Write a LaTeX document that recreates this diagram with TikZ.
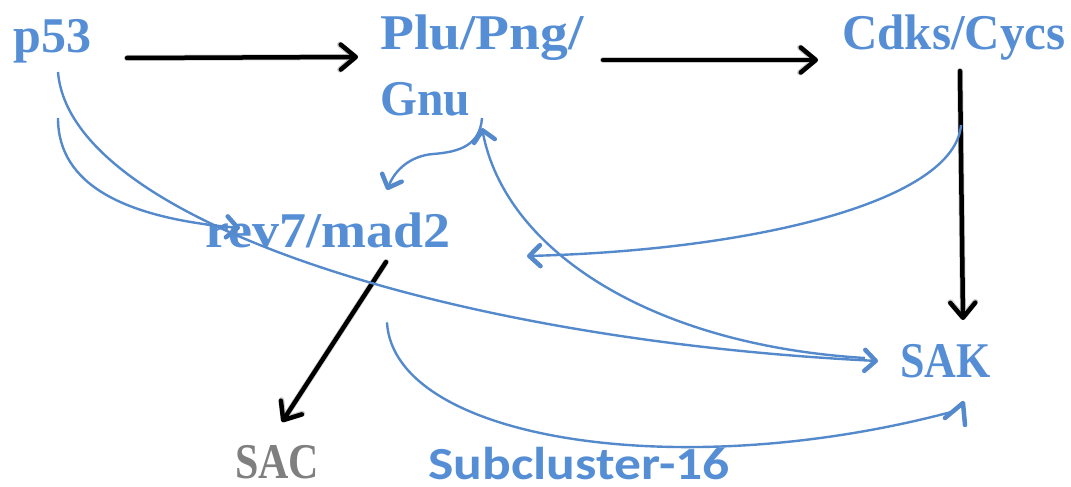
\documentclass[tikz,border=0pt]{standalone}
\usepackage{fontspec}
\setmainfont{Liberation Serif}
\newfontfamily\sansbold{Carlito}
\usetikzlibrary{arrows.meta}
\definecolor{txtblue}{RGB}{85,142,213}
\definecolor{lnblue}{RGB}{84,138,204}
\definecolor{sacgray}{RGB}{127,127,127}
\begin{document}
\begin{tikzpicture}[x=1pt,y=-1pt,
  lbl/.style={anchor=base west, inner sep=0pt, text=txtblue, font=\fontsize{50}{60}\selectfont\bfseries},
  blk/.style={draw=black, line width=4.5pt, line cap=round,
    -{Straight Barb[length=15pt,width=25pt,round]}},
  blkshadow/.style={draw=black!20, line width=6pt, line cap=round, shift={(1.5,2.5)},
    -{Straight Barb[length=15pt,width=25pt,round]}},
  blu/.style={draw=lnblue, line width=2.4pt,
    -{Straight Barb[length=11pt,width=21pt,line width=4.5pt,round]}},
  blunotip/.style={draw=lnblue, line width=2.4pt, line cap=round}]
\useasboundingbox (0,0) rectangle (1071,487);
% nodes
\node[lbl] (p53) at (13,53) {p53};
\node[lbl] (plu) at (380,50) {\scalebox{1.11}[1]{Plu/Png/}};
\node[lbl] (gnu) at (380,115) {\scalebox{0.95}[1]{Gnu}};
\node[lbl] (cdk) at (842,50) {\scalebox{0.98}[1]{Cdks/Cycs}};
\node[lbl] (rev) at (205,247) {\scalebox{1.08}[1]{rev7/mad2}};
\node[lbl] (sak) at (900,377) {\scalebox{0.88}[1]{SAK}};
\node[lbl, text=sacgray] (sac) at (235,478) {\scalebox{0.84}[1]{SAC}};
\node[lbl, font=\sansbold\fontsize{46}{54}\selectfont\bfseries] (sub) at (428,479) {\scalebox{1.165}[1]{Subcluster-16}};
% connector end points
\coordinate (p53-r) at (127,58);
\coordinate (plu-l) at (358,57);
\coordinate (plu-r) at (603,60);
\coordinate (cdk-l) at (818,60);
\coordinate (cdk-b) at (960,71);
\coordinate (sak-t) at (963,320);
\coordinate (rev-b) at (386,262);
\coordinate (sac-t) at (282,422);
\coordinate (p53-b1) at (58,72);
\coordinate (p53-b2) at (58,118);
\coordinate (sak-l) at (878,361);
\coordinate (sak-l2) at (865,358);
\coordinate (rev-tl) at (240,228);
\coordinate (gnu-b) at (482,118);
\coordinate (gnu-b2) at (482,128);
\coordinate (rev-tr) at (387,190);
\coordinate (cdk-b2) at (961,125);
\coordinate (rev-r) at (527,256);
\coordinate (rev-b2) at (387,323);
\coordinate (sak-b) at (955,411);
\coordinate (sak-btip) at (963,403);
% black arrows (shadow, then arrow)
\draw[blkshadow] (p53-r) -- (plu-l);
\draw[blkshadow] (plu-r) -- (cdk-l);
\draw[blkshadow] (cdk-b) -- (sak-t);
\draw[blkshadow] (rev-b) -- (sac-t);
\draw[blk] (p53-r) -- (plu-l);
\draw[blk] (plu-r) -- (cdk-l);
\draw[blk] (cdk-b) -- (sak-t);
\draw[blk] (rev-b) -- (sac-t);
% blue curved arrows
\draw[blu] (p53-b1) .. controls (70,220) and (450,340) .. (sak-l);
\draw[blu] (p53-b2) .. controls (58,185) and (125,218) .. (rev-tl);
\draw[blu] (gnu-b) .. controls (480,145) and (460,152) .. (433,154)
  .. controls (410,156) and (395,170) .. (rev-tr);
\draw[blu] (sak-l2) .. controls (650,345) and (505,250) .. (gnu-b2);
\draw[blu] (cdk-b2) .. controls (955,200) and (760,250) .. (rev-r);
\draw[blunotip] (rev-b2) .. controls (395,440) and (680,485) .. (sak-b);
\draw[draw=lnblue, line width=4.5pt, line cap=round, line join=round]
  (945,418) -- (sak-btip) -- (965,425);
\end{tikzpicture}
\end{document}
